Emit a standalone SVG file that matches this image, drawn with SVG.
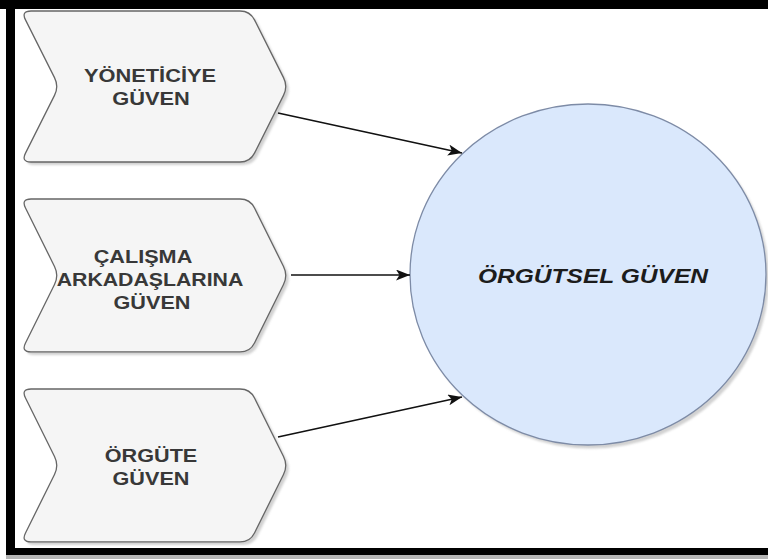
<svg xmlns="http://www.w3.org/2000/svg" width="768" height="559" viewBox="0 0 768 559">
<style>
.step{fill:#f5f5f5;stroke:#666;stroke-width:1.3}
.shadow{fill:#9a9a9a;opacity:0.45}
.lbl{font-family:"Liberation Sans",Arial,sans-serif;font-weight:bold;font-size:18.5px;fill:#383838;text-anchor:middle}
.big{font-family:"Liberation Sans",Arial,sans-serif;font-weight:bold;font-style:italic;font-size:21px;fill:#1c1c1c;text-anchor:middle}
.edge{stroke:#111;stroke-width:1.6;fill:none;marker-end:url(#arr)}
</style>
<defs>
<path id="stepShape" d="M10,0 L219,0 Q229,0 233.5,8.9 L262.5,66.6 Q267,75.5 262.5,84.4 L233.5,142.1 Q229,151 219,151 L10,151 Q0,151 4.5,142.1 L33.5,84.4 Q38,75.5 33.5,66.6 L4.5,8.9 Q0,0 10,0 Z"/>
<marker id="arr" markerUnits="userSpaceOnUse" markerWidth="16" markerHeight="12" refX="14" refY="5.5" orient="auto">
<path d="M0,0 L14,5.5 L0,11 L3.5,5.5 Z" fill="#111"/>
</marker>
<filter id="blur" x="-10%" y="-10%" width="120%" height="120%"><feGaussianBlur stdDeviation="1.2"/></filter>
</defs>
<rect width="768" height="559" fill="#fff"/>
<g id="frame">
<rect x="6" y="555" width="762" height="4" fill="#b5b5b5"/>
<rect x="0" y="0" width="768" height="9" fill="#000"/>
<rect x="6" y="0" width="9" height="555" fill="#000"/>
<rect x="6" y="548" width="762" height="7" fill="#000"/>
</g>
<g id="node-yoneticiye">
<use href="#stepShape" class="shadow" filter="url(#blur)" transform="translate(24,14)"/>
<use href="#stepShape" class="step" transform="translate(21,11)"/>
<text class="lbl" transform="translate(150,82) scale(1.18,1)">YÖNETİCİYE</text>
<text class="lbl" transform="translate(151,105) scale(1.18,1)">GÜVEN</text>
</g>
<g id="node-calisma">
<use href="#stepShape" class="shadow" filter="url(#blur)" transform="translate(24,202) scale(1,1.013)"/>
<use href="#stepShape" class="step" transform="translate(21,199) scale(1,1.013)"/>
<text class="lbl" transform="translate(143,263) scale(1.17,1)">ÇALIŞMA</text>
<text class="lbl" transform="translate(150,286) scale(1.15,1)">ARKADAŞLARINA</text>
<text class="lbl" transform="translate(152,309) scale(1.17,1)">GÜVEN</text>
</g>
<g id="node-orgute">
<use href="#stepShape" class="shadow" filter="url(#blur)" transform="translate(24,392) scale(1,1.013)"/>
<use href="#stepShape" class="step" transform="translate(21,389) scale(1,1.013)"/>
<text class="lbl" transform="translate(151,462) scale(1.17,1)">ÖRGÜTE</text>
<text class="lbl" transform="translate(151,485) scale(1.17,1)">GÜVEN</text>
</g>
<g id="node-orgutsel">
<ellipse cx="591" cy="278" rx="178" ry="170.5" fill="#9a9a9a" opacity="0.45" filter="url(#blur)"/>
<ellipse cx="588" cy="274.5" rx="178" ry="170.5" fill="#dae8fc" stroke="#7d8ba6" stroke-width="1.3"/>
<text class="big" transform="translate(593,283) scale(1.17,1)">ÖRGÜTSEL GÜVEN</text>
</g>
<g id="connectors">
<line class="edge" x1="278" y1="113" x2="462" y2="153"/>
<line class="edge" x1="291" y1="275" x2="410" y2="275"/>
<line class="edge" x1="278" y1="437" x2="462" y2="397"/>
</g>
</svg>
